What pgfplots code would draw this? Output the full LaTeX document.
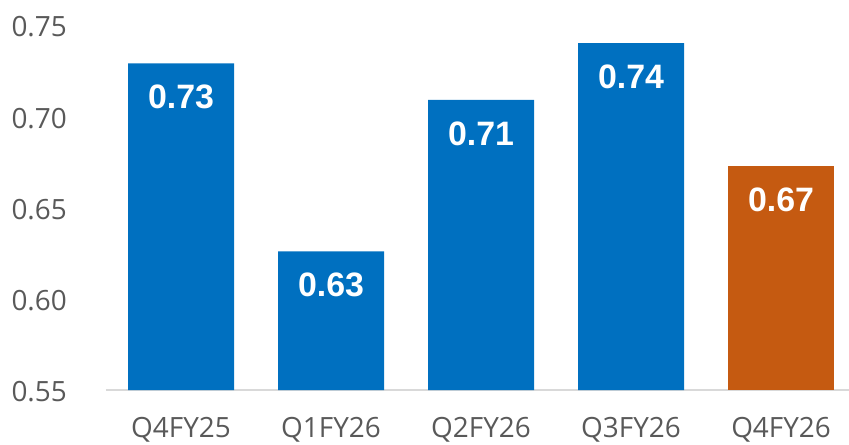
\documentclass[border=0pt]{standalone}
\usepackage{pgfplots}
\pgfplotsset{compat=1.18}
\usepackage{fontspec}
\setmainfont{Open Sans}
\newfontfamily\labelfont{Liberation Sans}
\definecolor{barblue}{HTML}{0070C0}
\definecolor{barorange}{HTML}{C55A11}
\definecolor{ticktext}{HTML}{595959}
\definecolor{axisgray}{HTML}{D9D9D9}
\begin{document}
\begin{tikzpicture}
\begin{axis}[
  name=ax,
  scale only axis,
  width=743bp, height=365bp,
  ybar, bar width=106bp, bar shift=0pt,
  xmin=-0.5, xmax=4.453,
  ymin=0.55, ymax=0.75,
  ytick={0.55,0.60,0.65,0.70,0.75},
  yticklabels={0.55,0.60,0.65,0.70,0.75},
  xtick={0,1,2,3,4},
  xticklabels={Q4FY25,Q1FY26,Q2FY26,Q3FY26,Q4FY26},
  major tick length=0pt,
  axis x line*=bottom, axis y line*=left,
  y axis line style={draw=none},
  x axis line style={-, draw=axisgray, line width=1.5bp},
  yticklabel style={font=\fontsize{28}{32}\selectfont, text=ticktext, anchor=east, inner sep=0pt, xshift=-39bp, yshift=-2bp},
  xticklabel style={font=\fontsize{28}{32}\selectfont, text=ticktext, anchor=base, inner sep=0pt, text depth=0pt, yshift=-47bp},
  point meta=explicit symbolic,
  nodes near coords,
  every node near coord/.append style={font=\labelfont\bfseries\fontsize{34}{38}\selectfont, text=white, anchor=center, yshift=-34bp},
]
\addplot[fill=barblue, draw=none] table[meta=lab] {
x y lab
0 0.729 0.73
1 0.626 0.63
2 0.709 0.71
3 0.740 0.74
};
\addplot[fill=barorange, draw=none] table[meta=lab] {
x y lab
4 0.673 0.67
};
\end{axis}
\pgfresetboundingbox
\path ([xshift=-106bp,yshift=-55bp]ax.south west) rectangle ([yshift=25bp]ax.north east);
\end{tikzpicture}
\end{document}
